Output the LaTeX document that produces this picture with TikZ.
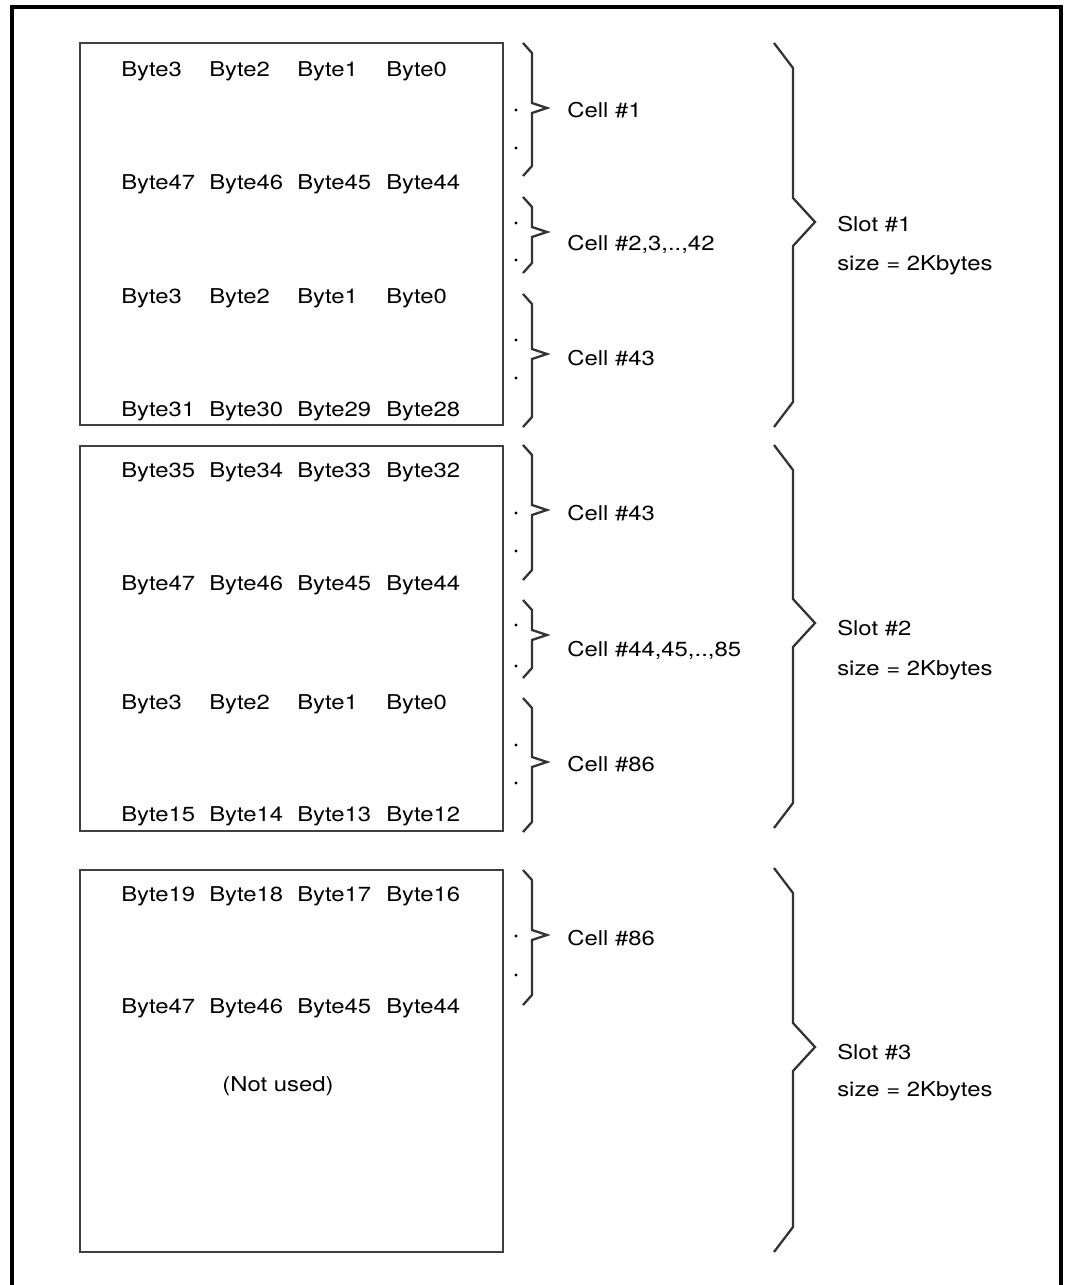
\documentclass[tikz,border=0pt]{standalone}
\usepackage{fontspec}
\setmainfont{TeX Gyre Heros}[FakeStretch=1.17]
\tikzset{
	frame/.style={draw,line width=2.4pt},
	membox/.style={draw=black!75,line width=1.7pt},
	brc/.style={draw=black!80,line width=1.7pt,line join=miter},
	txt/.style={anchor=base west,inner sep=0pt,font=\fontsize{15.3}{18}\selectfont},
	ctxt/.style={anchor=base,inner sep=0pt,font=\fontsize{15.3}{18}\selectfont}
}
% one row of four byte names
\newcommand{\byterow}[6]{%
	\node [txt] (#1a) at (121,#2) {#3};
	\node [txt] (#1b) at (209,#2) {#4};
	\node [txt] (#1c) at (297,#2) {#5};
	\node [txt] (#1d) at (386,#2) {#6};}
% small brace: top, tip, bottom
\newcommand{\cellbrace}[3]{%
	\draw [brc] (523,#1) -- (532,{#1+10}) -- (532,{#2-5}) -- (547,#2) -- (532,{#2+5}) -- (532,{#3-10}) -- (523,#3);}
% big brace: top, tip, bottom
\newcommand{\slotbrace}[3]{%
	\draw [brc] (774,#1) -- (793,{#1+25}) -- (793,{#2-24}) -- (815,#2) -- (793,{#2+24}) -- (793,{#3-25}) -- (774,#3);}
\newcommand{\twodots}[2]{%
	\fill (516,#1) circle (1.6);
	\fill (516,#2) circle (1.6);}

\begin{document}
\begin{tikzpicture}[x=0.75pt,y=-0.75pt]
	\useasboundingbox (0,0) rectangle (1067,1285);
	\draw [frame] (12,1290) -- (12,7) -- (1061,7) -- (1061,1290);

	\draw [membox] (80,43) rectangle (503,425);
	\draw [membox] (80,446) rectangle (503,831);
	\draw [membox] (80,870) rectangle (503,1252);

	\byterow{ra}{76}{Byte3}{Byte2}{Byte1}{Byte0}
	\byterow{rb}{189}{Byte47}{Byte46}{Byte45}{Byte44}
	\byterow{rc}{303}{Byte3}{Byte2}{Byte1}{Byte0}
	\byterow{rd}{416}{Byte31}{Byte30}{Byte29}{Byte28}
	\byterow{re}{477}{Byte35}{Byte34}{Byte33}{Byte32}
	\byterow{rf}{590}{Byte47}{Byte46}{Byte45}{Byte44}
	\byterow{rg}{709}{Byte3}{Byte2}{Byte1}{Byte0}
	\byterow{rh}{821}{Byte15}{Byte14}{Byte13}{Byte12}
	\byterow{ri}{901}{Byte19}{Byte18}{Byte17}{Byte16}
	\byterow{rj}{1013}{Byte47}{Byte46}{Byte45}{Byte44}
	\node [ctxt] (unused) at (278,1091) {(Not used)};

	\cellbrace{43}{108}{176}
	\cellbrace{197}{232}{273}
	\cellbrace{294}{354}{427}
	\cellbrace{445}{510}{580}
	\cellbrace{600}{635}{678}
	\cellbrace{698}{762}{832}
	\cellbrace{870}{935}{1005}
	\twodots{110}{148}
	\twodots{223}{260}
	\twodots{340}{378}
	\twodots{513}{551}
	\twodots{625}{666}
	\twodots{745}{783}
	\twodots{936}{975}

	\node [txt] (cell1) at (567,117) {Cell \#1};
	\node [txt] (cell2) at (567,250) {Cell \#2,3,..,42};
	\node [txt] (cell43a) at (567,365) {Cell \#43};
	\node [txt] (cell43b) at (567,520) {Cell \#43};
	\node [txt] (cell44) at (567,656) {Cell \#44,45,..,85};
	\node [txt] (cell86a) at (567,771) {Cell \#86};
	\node [txt] (cell86b) at (567,945) {Cell \#86};

	\slotbrace{43}{222}{427}
	\slotbrace{445}{623}{828}
	\slotbrace{868}{1047}{1252}

	\node [txt] (slot1) at (837,231) {Slot \#1};
	\node [txt] (size1) at (837,270) {size = 2Kbytes};
	\node [txt] (slot2) at (837,635) {Slot \#2};
	\node [txt] (size2) at (837,675) {size = 2Kbytes};
	\node [txt] (slot3) at (837,1059) {Slot \#3};
	\node [txt] (size3) at (837,1096) {size = 2Kbytes};
\end{tikzpicture}
\end{document}
